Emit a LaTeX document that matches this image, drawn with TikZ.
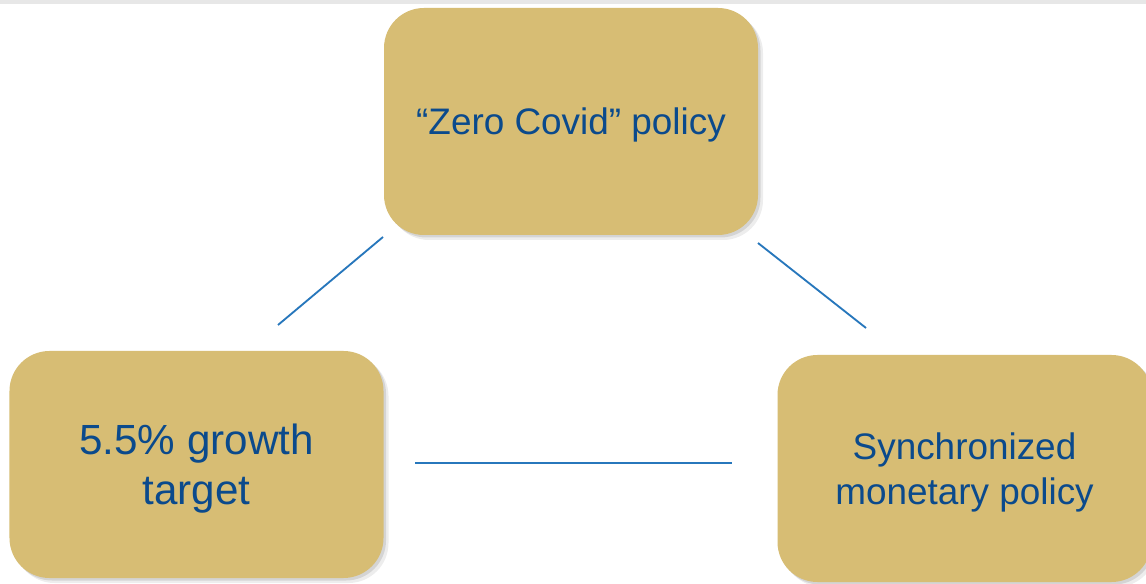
\documentclass[tikz,border=0pt]{standalone}
\usepackage{fontspec}
\setmainfont{Liberation Sans}
\usepackage{tikz}
\usetikzlibrary{positioning, shadows}

\definecolor{boxgold}{HTML}{D7BD74}
\definecolor{textblue}{HTML}{0B4A8C}
\definecolor{linkblue}{HTML}{2777BC}
\definecolor{bandgray}{HTML}{E7E7E7}

\begin{document}
\begin{tikzpicture}[
  policy/.style = {fill=boxgold, rounded corners=0.8cm, minimum width=7.48cm, minimum height=4.54cm,
                   align=center, text=textblue, text depth=0pt,
                   drop shadow={shadow xshift=0.10cm, shadow yshift=-0.10cm, fill=black, opacity=0.07},
                   drop shadow={shadow xshift=0.05cm, shadow yshift=-0.05cm, fill=black, opacity=0.10}},
  link/.style = {draw=linkblue, line width=1.05pt}
]

  % page frame and the grey strip along the top
  \useasboundingbox (0,0) rectangle (22.92,11.66);
  \fill[white] (0,0) rectangle (22.92,11.66);
  \fill[bandgray] (0,11.58) rectangle (22.92,11.66);

  % The three corners of the trilemma
  \node[policy, font=\fontsize{21}{25.6}\selectfont] (zerocovid) at (11.42,9.23) {“Zero Covid” policy};
  \node[policy, font=\fontsize{24}{28.5}\selectfont] (growth) at (3.93,2.37) {5.5\% growth\\target};
  \node[policy, font=\fontsize{21}{25.6}\selectfont] (monetary) at (19.29,2.29) {Synchronized\\monetary policy};

  % line ends in the gaps between the boxes
  \coordinate (tl_a) at (5.56,5.16);
  \coordinate (tl_b) at (7.66,6.92);
  \coordinate (tr_a) at (15.16,6.80);
  \coordinate (tr_b) at (17.32,5.10);
  \coordinate (bt_a) at (8.30,2.40);
  \coordinate (bt_b) at (14.64,2.40);

  % Connecting lines
  \draw[link] (tl_a) -- (tl_b);
  \draw[link] (tr_a) -- (tr_b);
  \draw[link] (bt_a) -- (bt_b);

\end{tikzpicture}
\end{document}
